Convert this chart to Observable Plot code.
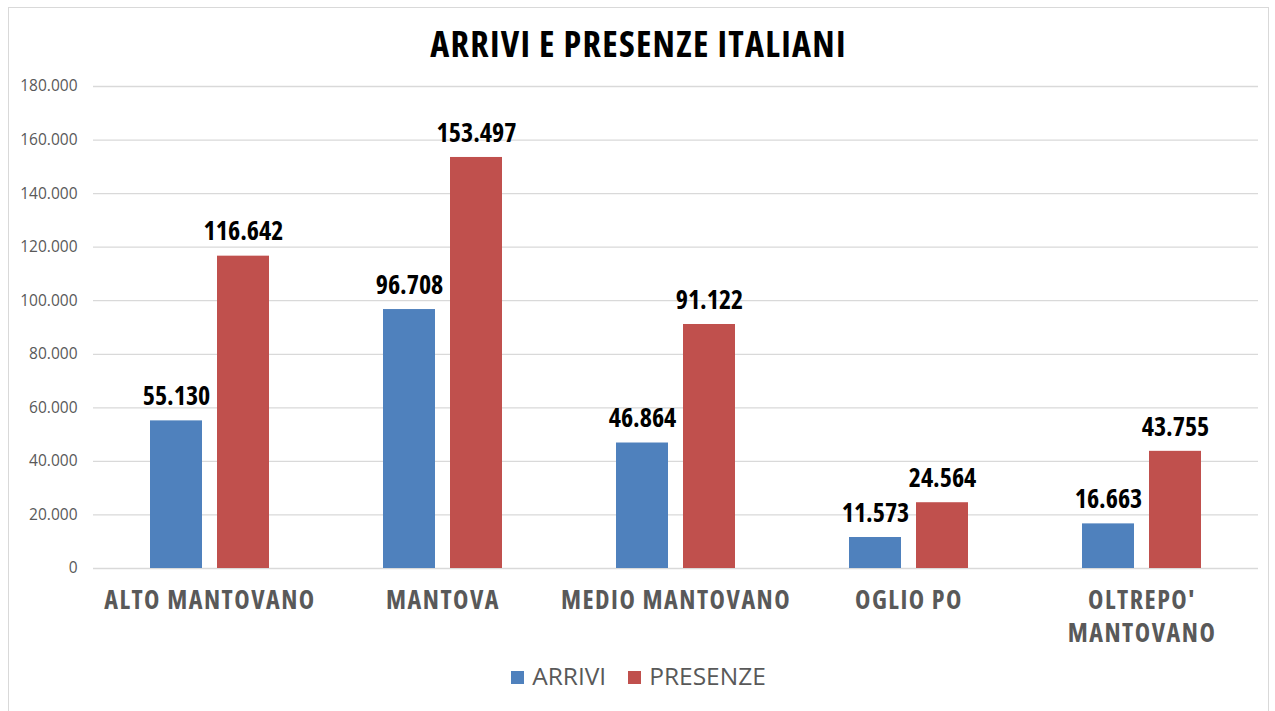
<!DOCTYPE html>
<html>
<head>
<meta charset="utf-8">
<script src="https://cdn.jsdelivr.net/npm/d3@7"></script>
<script src="https://cdn.jsdelivr.net/npm/@observablehq/plot@0.6"></script>
<style>
  body { margin: 0; background: #fff; }
  #wrap { position: absolute; left: 8px; top: 7px; width: 1261px; height: 704px; border: 1px solid #d9d9d9; border-bottom: none; box-sizing: border-box; }
  #title { height: 62px; text-align: center; font-family: "Open Sans", sans-serif; font-stretch: 75%; font-weight: bold; font-size: 36px; letter-spacing: 1.3px; color: #000; line-height: 72px; }
  #legend { text-align: center; font-family: "Open Sans", sans-serif; font-weight: 500; font-size: 24.5px; color: #595959; margin-top: 11px; }
  #legend span.sw { display: inline-block; width: 13px; height: 13px; margin-right: 8px; vertical-align: 1px; }
  #legend span.it { margin: 0 11px; }
</style>
</head>
<body>
<div id="wrap">
  <div id="title">ARRIVI E PRESENZE ITALIANI</div>
  <div id="chart"></div>
  <div id="legend"></div>
</div>
<script>
const categories = ["ALTO MANTOVANO", "MANTOVA", "MEDIO MANTOVANO", "OGLIO PO", "OLTREPO' MANTOVANO"];
const seriesNames = ["ARRIVI", "PRESENZE"];
const arrivi = [55130, 96708, 46864, 11573, 16663];
const presenze = [116642, 153497, 91122, 24564, 43755];
const yTicks = [0, 20000, 40000, 60000, 80000, 100000, 120000, 140000, 160000, 180000];
const colors = ["#4f81bd", "#c0504d"];

const locale = d3.formatLocale({decimal: ",", thousands: ".", grouping: [3], currency: ["", "€"]});
const fmt = locale.format(",d");

const data = [];
categories.forEach((c, i) => {
  data.push({cat: c, series: seriesNames[0], value: arrivi[i]});
  data.push({cat: c, series: seriesNames[1], value: presenze[i]});
});

const chart = Plot.plot({
  width: 1259,
  height: 578,
  marginLeft: 83,
  marginRight: 10,
  marginTop: 16,
  marginBottom: 80,
  style: {background: "transparent", overflow: "visible"},
  fx: {domain: categories, padding: 0, label: null},
  x: {domain: seriesNames, paddingInner: 0.224, paddingOuter: 0.85, axis: null},
  y: {domain: [0, 180000], label: null},
  color: {domain: seriesNames, range: colors},
  marks: [
    Plot.gridY(yTicks, {stroke: "#d9d9d9", strokeOpacity: 1, strokeWidth: 1.3}),
    Plot.axisY({ticks: yTicks, tickFormat: fmt, tickSize: 0, tickPadding: 16, fontSize: 15.5, fill: "#595959", fontFamily: "'Open Sans', sans-serif", label: null}),
    Plot.axisFx({anchor: "bottom", tickSize: 0, tickPadding: 17, fontSize: 26, fontWeight: "bold", fill: "#595959", fontFamily: "'Open Sans', sans-serif", lineHeight: 1.27, className: "xlab",
      tickFormat: d => d === "OLTREPO' MANTOVANO" ? "OLTREPO'\nMANTOVANO" : d, label: null}),
    Plot.barY(data, {fx: "cat", x: "series", y: "value", fill: "series"}),
    Plot.text(data, {fx: "cat", x: "series", y: "value", text: d => fmt(d.value), dy: -24, fontSize: 26, fontWeight: "bold", fill: "#000", fontFamily: "'Open Sans', sans-serif", className: "vlab"})
  ]
});
chart.querySelectorAll(".xlab text").forEach(t => { t.style.fontStretch = "75%"; t.style.letterSpacing = "1.5px"; });
chart.querySelectorAll(".vlab text").forEach(t => t.style.fontStretch = "75%");
document.getElementById("chart").appendChild(chart);

const legend = document.getElementById("legend");
seriesNames.forEach((s, i) => {
  const it = document.createElement("span");
  it.className = "it";
  it.innerHTML = `<span class="sw" style="background:${colors[i]}"></span>${s}`;
  legend.appendChild(it);
});
</script>
</body>
</html>
